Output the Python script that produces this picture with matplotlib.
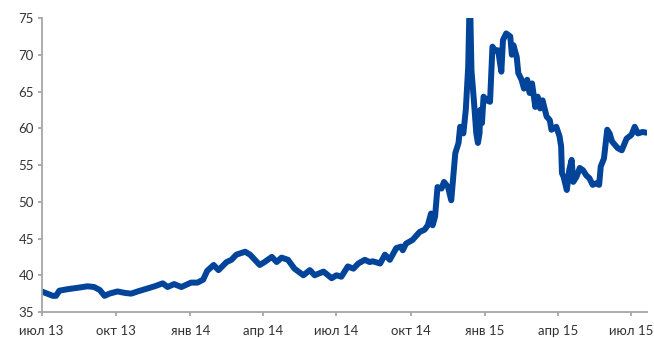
import matplotlib
matplotlib.use("Agg")
import matplotlib.pyplot as plt
import pandas as pd

plt.rcParams['font.family'] = ['Lato', 'DejaVu Sans']

dates = [
    "2013-07-01", "2013-07-08", "2013-07-15", "2013-07-19", "2013-07-23", "2013-08-02",
    "2013-08-15", "2013-08-27", "2013-09-04", "2013-09-11", "2013-09-17", "2013-09-23",
    "2013-10-03", "2013-10-12", "2013-10-20", "2013-10-28", "2013-11-09", "2013-11-18",
    "2013-11-28", "2013-12-04", "2013-12-12", "2013-12-21", "2013-12-27", "2014-01-02",
    "2014-01-10", "2014-01-17", "2014-01-22", "2014-01-30", "2014-02-05", "2014-02-15",
    "2014-02-21", "2014-02-27", "2014-03-10", "2014-03-16", "2014-03-22", "2014-03-28",
    "2014-04-03", "2014-04-12", "2014-04-18", "2014-04-24", "2014-05-02", "2014-05-10",
    "2014-05-21", "2014-05-29", "2014-06-04", "2014-06-15", "2014-06-25", "2014-07-01",
    "2014-07-07", "2014-07-15", "2014-07-22", "2014-07-28", "2014-08-05", "2014-08-11",
    "2014-08-15", "2014-08-24", "2014-08-30", "2014-09-05", "2014-09-13", "2014-09-19",
    "2014-09-21", "2014-09-25", "2014-10-03", "2014-10-12", "2014-10-18", "2014-10-22",
    "2014-10-26", "2014-10-28", "2014-10-31", "2014-11-03", "2014-11-08", "2014-11-11",
    "2014-11-16", "2014-11-20", "2014-11-25", "2014-11-29", "2014-12-01", "2014-12-05",
    "2014-12-08", "2014-12-11", "2014-12-13", "2014-12-15", "2014-12-18", "2014-12-21",
    "2014-12-23", "2014-12-25", "2014-12-26", "2014-12-28", "2014-12-30", "2015-01-03",
    "2015-01-07", "2015-01-10", "2015-01-13", "2015-01-17", "2015-01-21", "2015-01-23",
    "2015-01-27", "2015-02-01", "2015-02-03", "2015-02-05", "2015-02-09", "2015-02-11",
    "2015-02-15", "2015-02-18", "2015-02-22", "2015-02-25", "2015-02-28", "2015-03-04",
    "2015-03-07", "2015-03-10", "2015-03-13", "2015-03-18", "2015-03-22", "2015-03-24",
    "2015-03-30", "2015-04-03", "2015-04-05", "2015-04-06", "2015-04-08", "2015-04-12",
    "2015-04-15", "2015-04-18", "2015-04-20", "2015-04-24", "2015-04-28", "2015-05-02",
    "2015-05-06", "2015-05-10", "2015-05-14", "2015-05-18", "2015-05-22", "2015-05-24",
    "2015-05-28", "2015-06-01", "2015-06-04", "2015-06-07", "2015-06-14", "2015-06-19",
    "2015-06-25", "2015-07-01", "2015-07-05", "2015-07-09", "2015-07-15", "2015-07-19",
]

rate = [
    37.8, 37.5, 37.2, 37.2, 37.9, 38.1,
    38.3, 38.5, 38.4, 38.0, 37.2, 37.5,
    37.8, 37.6, 37.5, 37.8, 38.2, 38.5,
    38.9, 38.4, 38.8, 38.4, 38.7, 39.0,
    39.0, 39.4, 40.6, 41.4, 40.7, 41.8,
    42.1, 42.8, 43.2, 42.8, 42.1, 41.4,
    41.8, 42.5, 41.8, 42.4, 42.1, 40.9,
    40.0, 40.7, 40.0, 40.5, 39.6, 40.0,
    39.8, 41.2, 40.9, 41.6, 42.1, 41.8,
    41.9, 41.6, 42.8, 42.1, 43.7, 43.9,
    43.4, 44.3, 44.8, 45.9, 46.2, 46.8,
    48.4, 46.8, 48.0, 52.0, 51.8, 52.7,
    52.0, 50.2, 56.6, 58.0, 60.2, 59.3,
    62.5, 68.4, 79.0, 67.9, 63.8, 59.3,
    58.0, 59.3, 62.5, 60.7, 64.3, 63.8,
    63.6, 71.1, 70.6, 70.6, 67.7, 72.0,
    72.9, 72.5, 70.0, 71.3, 69.7, 67.5,
    66.6, 65.4, 66.6, 64.8, 66.1, 62.9,
    64.3, 62.7, 63.8, 61.6, 61.1, 59.8,
    60.2, 58.9, 57.5, 53.9, 53.4, 51.6,
    54.3, 55.7, 52.7, 53.4, 54.6, 54.3,
    53.6, 53.2, 52.3, 52.5, 52.3, 54.8,
    55.9, 59.8, 59.3, 58.2, 57.3, 57.0,
    58.6, 59.1, 60.2, 59.3, 59.5, 59.4,
]

tick_dates = ["2013-07-01", "2013-10-01", "2014-01-01", "2014-04-01", "2014-07-01",
              "2014-10-01", "2015-01-01", "2015-04-01", "2015-07-01"]
tick_labels = ["июл 13", "окт 13", "янв 14", "апр 14", "июл 14",
               "окт 14", "янв 15", "апр 15", "июл 15"]
y_ticks = [35, 40, 45, 50, 55, 60, 65, 70, 75]

x = pd.to_datetime(dates)

fig = plt.figure(figsize=(6.54, 3.38), dpi=100)
ax = fig.add_axes([0.0635, 0.0769, 0.9255, 0.8698])

ax.plot(x, rate, color="#01449a", linewidth=4.3, solid_joinstyle="round",
        solid_capstyle="round")

ax.set_ylim(35, 75)
ax.set_xlim(pd.Timestamp("2013-07-01"), pd.Timestamp("2015-07-20"))
ax.set_yticks(y_ticks)
ax.set_xticks(pd.to_datetime(tick_dates))
ax.set_xticklabels(tick_labels)

for side in ("top", "right"):
    ax.spines[side].set_visible(False)
for side in ("left", "bottom"):
    ax.spines[side].set_color("#a6a6a6")
    ax.spines[side].set_linewidth(1.3)

ax.tick_params(axis="both", colors="#a6a6a6", width=1.3, length=3,
               labelcolor="#333333", labelsize=9.5)
ax.tick_params(axis="x", pad=6)
ax.tick_params(axis="y", pad=2.5)

fig.savefig("out.png", dpi=100)
